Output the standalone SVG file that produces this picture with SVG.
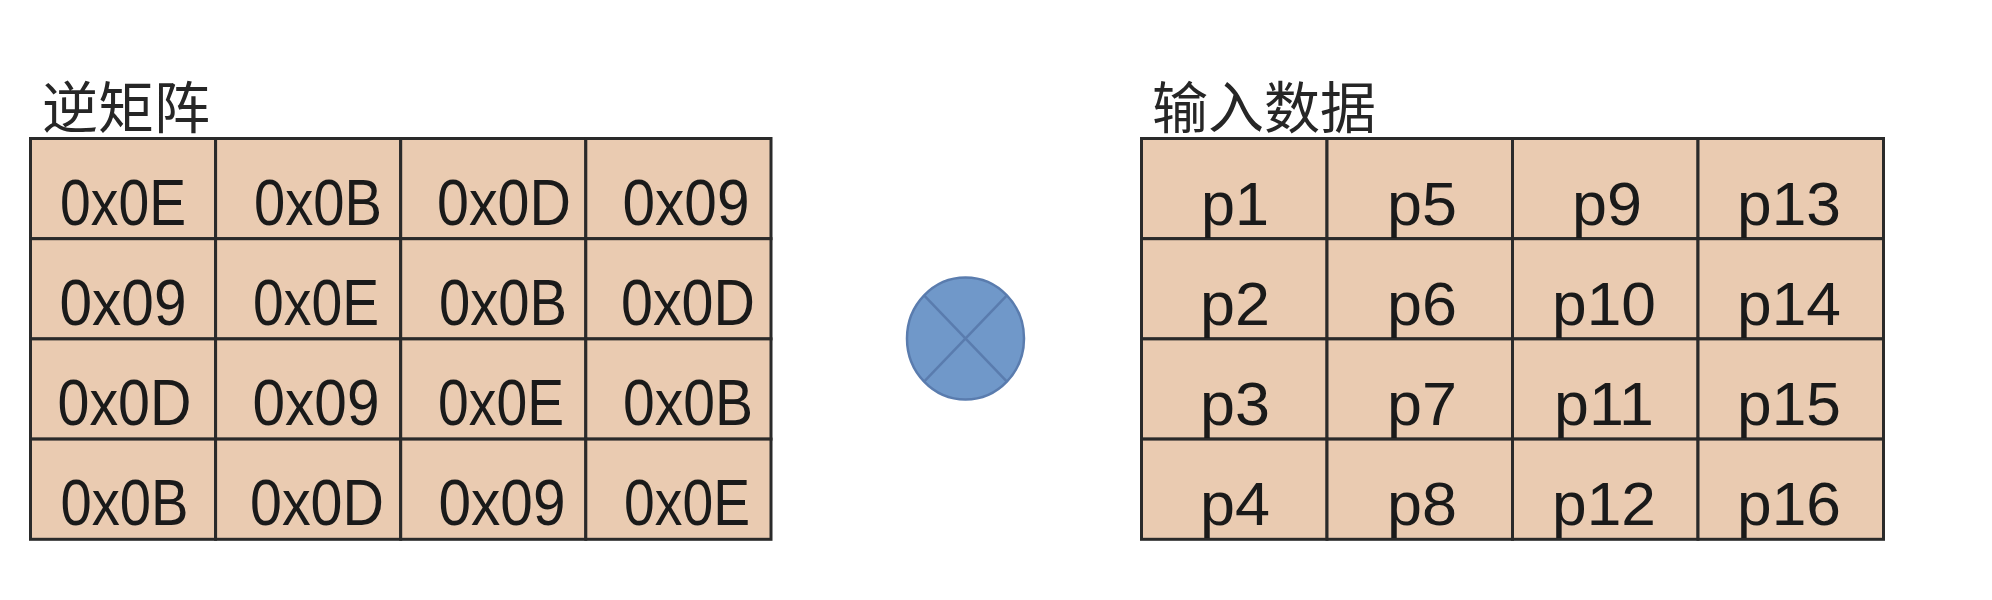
<svg xmlns="http://www.w3.org/2000/svg" width="1992" height="600" viewBox="0 0 1992 600">
<style>
.bg{fill:#ffffff}
.cell{fill:#EACBB1;stroke:#2a2a2a;stroke-width:3}
.title{font-family:"Noto Sans CJK SC","Noto Sans",sans-serif;font-size:56px;fill:#262626}
.hex{font-family:"Liberation Sans Narrow","Liberation Sans",Arial,sans-serif;font-size:64px;fill:#1a1a1a;text-anchor:middle}
.p{font-family:"Liberation Sans Narrow","Liberation Sans",Arial,sans-serif;font-size:62px;fill:#1a1a1a;text-anchor:middle}
.op{fill:#7098C9;stroke:#5A7CAE;stroke-width:2.5}
.opx{stroke:#5A7CAE;stroke-width:2.5;fill:none}
</style>
<rect class="bg" x="0" y="0" width="1992" height="600"/>
<g id="title-inverse"><text class="title" x="42" y="128">逆矩阵</text></g>
<g id="title-input"><text class="title" x="1152" y="128">输入数据</text></g>
<g id="inverse-matrix">
<rect class="cell" x="30.5" y="138.5" width="185.1" height="100.2"/>
<rect class="cell" x="215.6" y="138.5" width="185.1" height="100.2"/>
<rect class="cell" x="400.7" y="138.5" width="185.1" height="100.2"/>
<rect class="cell" x="585.8" y="138.5" width="185.2" height="100.2"/>
<rect class="cell" x="30.5" y="238.7" width="185.1" height="100.2"/>
<rect class="cell" x="215.6" y="238.7" width="185.1" height="100.2"/>
<rect class="cell" x="400.7" y="238.7" width="185.1" height="100.2"/>
<rect class="cell" x="585.8" y="238.7" width="185.2" height="100.2"/>
<rect class="cell" x="30.5" y="338.9" width="185.1" height="100.2"/>
<rect class="cell" x="215.6" y="338.9" width="185.1" height="100.2"/>
<rect class="cell" x="400.7" y="338.9" width="185.1" height="100.2"/>
<rect class="cell" x="585.8" y="338.9" width="185.2" height="100.2"/>
<rect class="cell" x="30.5" y="439.1" width="185.1" height="100.2"/>
<rect class="cell" x="215.6" y="439.1" width="185.1" height="100.2"/>
<rect class="cell" x="400.7" y="439.1" width="185.1" height="100.2"/>
<rect class="cell" x="585.8" y="439.1" width="185.2" height="100.2"/>
<text class="hex" x="123" y="225" textLength="126" lengthAdjust="spacingAndGlyphs">0x0E</text>
<text class="hex" x="318" y="225" textLength="128" lengthAdjust="spacingAndGlyphs">0x0B</text>
<text class="hex" x="504" y="225" textLength="134" lengthAdjust="spacingAndGlyphs">0x0D</text>
<text class="hex" x="686" y="225" textLength="127" lengthAdjust="spacingAndGlyphs">0x09</text>
<text class="hex" x="123" y="325" textLength="127" lengthAdjust="spacingAndGlyphs">0x09</text>
<text class="hex" x="316" y="325" textLength="126" lengthAdjust="spacingAndGlyphs">0x0E</text>
<text class="hex" x="503" y="325" textLength="128" lengthAdjust="spacingAndGlyphs">0x0B</text>
<text class="hex" x="688" y="325" textLength="134" lengthAdjust="spacingAndGlyphs">0x0D</text>
<text class="hex" x="124.5" y="425" textLength="134" lengthAdjust="spacingAndGlyphs">0x0D</text>
<text class="hex" x="316" y="425" textLength="127" lengthAdjust="spacingAndGlyphs">0x09</text>
<text class="hex" x="501" y="425" textLength="126" lengthAdjust="spacingAndGlyphs">0x0E</text>
<text class="hex" x="688" y="425" textLength="130" lengthAdjust="spacingAndGlyphs">0x0B</text>
<text class="hex" x="124.5" y="525" textLength="128" lengthAdjust="spacingAndGlyphs">0x0B</text>
<text class="hex" x="317" y="525" textLength="134" lengthAdjust="spacingAndGlyphs">0x0D</text>
<text class="hex" x="502" y="525" textLength="127" lengthAdjust="spacingAndGlyphs">0x09</text>
<text class="hex" x="687" y="525" textLength="126" lengthAdjust="spacingAndGlyphs">0x0E</text>
</g>
<g id="multiply-operator">
<ellipse class="op" cx="965.5" cy="338.5" rx="58.5" ry="61"/>
<line class="opx" x1="924.1" y1="295.4" x2="1006.9" y2="381.6"/>
<line class="opx" x1="1006.9" y1="295.4" x2="924.1" y2="381.6"/>
</g>
<g id="input-data">
<rect class="cell" x="1141.5" y="138.5" width="185.5" height="100.2"/>
<rect class="cell" x="1327" y="138.5" width="185.5" height="100.2"/>
<rect class="cell" x="1512.5" y="138.5" width="185.5" height="100.2"/>
<rect class="cell" x="1698" y="138.5" width="185.5" height="100.2"/>
<rect class="cell" x="1141.5" y="238.7" width="185.5" height="100.2"/>
<rect class="cell" x="1327" y="238.7" width="185.5" height="100.2"/>
<rect class="cell" x="1512.5" y="238.7" width="185.5" height="100.2"/>
<rect class="cell" x="1698" y="238.7" width="185.5" height="100.2"/>
<rect class="cell" x="1141.5" y="338.9" width="185.5" height="100.2"/>
<rect class="cell" x="1327" y="338.9" width="185.5" height="100.2"/>
<rect class="cell" x="1512.5" y="338.9" width="185.5" height="100.2"/>
<rect class="cell" x="1698" y="338.9" width="185.5" height="100.2"/>
<rect class="cell" x="1141.5" y="439.1" width="185.5" height="100.2"/>
<rect class="cell" x="1327" y="439.1" width="185.5" height="100.2"/>
<rect class="cell" x="1512.5" y="439.1" width="185.5" height="100.2"/>
<rect class="cell" x="1698" y="439.1" width="185.5" height="100.2"/>
<text class="p" x="1235" y="225" textLength="68" lengthAdjust="spacingAndGlyphs">p1</text>
<text class="p" x="1422" y="225" textLength="70" lengthAdjust="spacingAndGlyphs">p5</text>
<text class="p" x="1607" y="225" textLength="70" lengthAdjust="spacingAndGlyphs">p9</text>
<text class="p" x="1789" y="225" textLength="104" lengthAdjust="spacingAndGlyphs">p13</text>
<text class="p" x="1235" y="325" textLength="70" lengthAdjust="spacingAndGlyphs">p2</text>
<text class="p" x="1422" y="325" textLength="70" lengthAdjust="spacingAndGlyphs">p6</text>
<text class="p" x="1604" y="325" textLength="104" lengthAdjust="spacingAndGlyphs">p10</text>
<text class="p" x="1789" y="325" textLength="104" lengthAdjust="spacingAndGlyphs">p14</text>
<text class="p" x="1235" y="425" textLength="70" lengthAdjust="spacingAndGlyphs">p3</text>
<text class="p" x="1422" y="425" textLength="70" lengthAdjust="spacingAndGlyphs">p7</text>
<text class="p" x="1604" y="425" textLength="100" lengthAdjust="spacingAndGlyphs">p11</text>
<text class="p" x="1789" y="425" textLength="104" lengthAdjust="spacingAndGlyphs">p15</text>
<text class="p" x="1235" y="525" textLength="70" lengthAdjust="spacingAndGlyphs">p4</text>
<text class="p" x="1422" y="525" textLength="70" lengthAdjust="spacingAndGlyphs">p8</text>
<text class="p" x="1604" y="525" textLength="104" lengthAdjust="spacingAndGlyphs">p12</text>
<text class="p" x="1789" y="525" textLength="104" lengthAdjust="spacingAndGlyphs">p16</text>
</g>
<g id="connectors"/>
</svg>
